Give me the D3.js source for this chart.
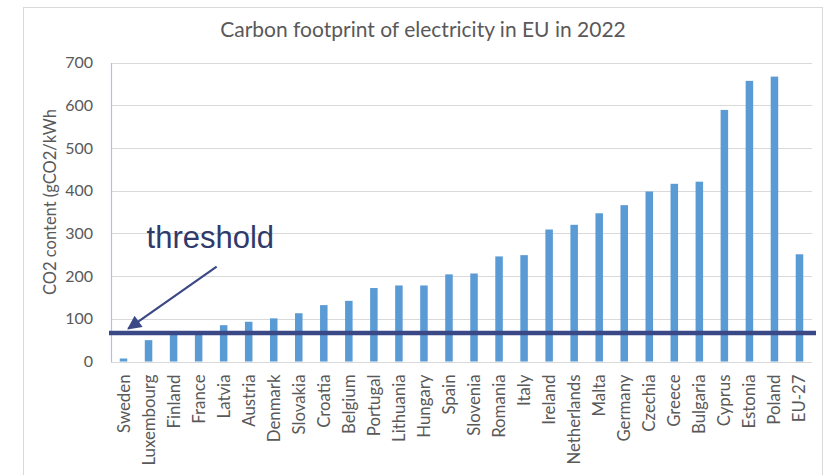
<!DOCTYPE html>
<html>
<head>
<meta charset="utf-8">
<script src="https://cdn.jsdelivr.net/npm/d3@7"></script>
<style>
  html, body { margin: 0; padding: 0; background: #ffffff; }
  svg { display: block; }
</style>
</head>
<body>
<svg id="chart" width="831" height="475"></svg>
<script>
// Carbon intensity of electricity generation, EU member states, 2022
const countries = ["Sweden", "Luxembourg", "Finland", "France", "Latvia", "Austria", "Denmark",
  "Slovakia", "Croatia", "Belgium", "Portugal", "Lithuania", "Hungary", "Spain", "Slovenia",
  "Romania", "Italy", "Ireland", "Netherlands", "Malta", "Germany", "Czechia", "Greece",
  "Bulgaria", "Cyprus", "Estonia", "Poland", "EU-27"];
const co2Values = [7, 50, 69, 68, 85, 93, 101, 113, 132, 142, 172, 178, 178, 204, 206,
  246, 249, 309, 320, 347, 366, 398, 416, 421, 589, 657, 667, 251];
const yTicks = [0, 100, 200, 300, 400, 500, 600, 700];
const thresholdValue = 67;
const titleText = "Carbon footprint of electricity in EU in 2022";
const yAxisTitle = "CO2 content (gCO2/kWh";
const annotationText = "threshold";

const width = 831, height = 475;
const margin = { top: 62.5, right: 19, bottom: 113.5, left: 111 };
const svg = d3.select("#chart");

// outer chart frame
svg.append("rect")
  .attr("x", 23.5).attr("y", 7.5)
  .attr("width", 799).attr("height", 480)
  .attr("fill", "#ffffff").attr("stroke", "#d9d9d9").attr("stroke-width", 1);

const x = d3.scaleBand()
  .domain(countries)
  .range([margin.left, width - margin.right])
  .paddingInner(0.7)
  .paddingOuter(0.35);

const y = d3.scaleLinear()
  .domain([0, 700])
  .range([height - margin.bottom, margin.top]);

// position along the category axis measured in bands
const xPos = d3.scaleLinear()
  .domain([0, countries.length])
  .range([margin.left, width - margin.right]);

const font = "Lato, 'Open Sans', sans-serif";
const textGrey = "#595959";

// gridlines
svg.append("g")
  .selectAll("line")
  .data(yTicks)
  .join("line")
  .attr("x1", margin.left)
  .attr("x2", width - margin.right)
  .attr("y1", d => Math.round(y(d)) + 0.5)
  .attr("y2", d => Math.round(y(d)) + 0.5)
  .attr("stroke", "#d9d9d9")
  .attr("stroke-width", 1);

// y axis
const yAxis = svg.append("g")
  .attr("transform", `translate(${margin.left},0)`)
  .call(d3.axisLeft(y).tickValues(yTicks).tickSize(0).tickPadding(18));
yAxis.select(".domain").attr("stroke", "#a9c4e4").attr("stroke-width", 1.2);
yAxis.selectAll("text")
  .attr("font-family", font)
  .attr("font-size", 16)
  .attr("fill", textGrey);

// bars
svg.append("g")
  .selectAll("rect")
  .data(countries.map((c, i) => ({ c, v: co2Values[i] })))
  .join("rect")
  .attr("x", d => x(d.c))
  .attr("width", x.bandwidth())
  .attr("y", d => y(d.v))
  .attr("height", d => y(0) - y(d.v))
  .attr("fill", "#5b9bd5");

// x axis labels
const xAxis = svg.append("g")
  .attr("transform", `translate(0,${y(0)})`)
  .call(d3.axisBottom(x).tickSize(0).tickPadding(0));
xAxis.select(".domain").remove();
xAxis.selectAll("text")
  .attr("font-family", font)
  .attr("font-size", 16.8)
  .attr("fill", textGrey)
  .attr("text-anchor", "end")
  .attr("dy", null)
  .attr("transform", "translate(6,13) rotate(-90)");

// threshold line
svg.append("line")
  .attr("x1", margin.left - 2)
  .attr("x2", width - margin.right + 4)
  .attr("y1", y(thresholdValue))
  .attr("y2", y(thresholdValue))
  .attr("stroke", "#3a4886")
  .attr("stroke-width", 4.5);

// annotation arrow
const arrowFrom = { band: 4.22, value: 222 };
const arrowTo = { band: 0.69, value: 77 };
const defs = svg.append("defs");
defs.append("marker")
  .attr("id", "arrowhead")
  .attr("viewBox", "0 0 10 10")
  .attr("refX", 9).attr("refY", 5)
  .attr("markerWidth", 16).attr("markerHeight", 14)
  .attr("markerUnits", "userSpaceOnUse")
  .attr("orient", "auto")
  .append("path")
  .attr("d", "M0,0 L10,5 L0,10 Z")
  .attr("fill", "#3a4886");

svg.append("line")
  .attr("x1", xPos(arrowFrom.band))
  .attr("y1", y(arrowFrom.value))
  .attr("x2", xPos(arrowTo.band))
  .attr("y2", y(arrowTo.value))
  .attr("stroke", "#3a4886")
  .attr("stroke-width", 2.2)
  .attr("marker-end", "url(#arrowhead)");

svg.append("text")
  .attr("x", xPos(1.42))
  .attr("y", y(265))
  .attr("font-family", "'Liberation Sans', Arial, sans-serif")
  .attr("font-size", 31)
  .attr("fill", "#2f3a6b")
  .text(annotationText);

// title
svg.append("text")
  .attr("x", 423)
  .attr("y", 37)
  .attr("text-anchor", "middle")
  .attr("font-family", font)
  .attr("font-size", 21)
  .attr("fill", textGrey)
  .text(titleText);

// y axis title
svg.append("text")
  .attr("transform", `translate(56,${(y(0) + y(700)) / 2 - 10}) rotate(-90)`)
  .attr("text-anchor", "middle")
  .attr("font-family", font)
  .attr("font-size", 16.5)
  .attr("fill", textGrey)
  .text(yAxisTitle);
</script>
</body>
</html>
